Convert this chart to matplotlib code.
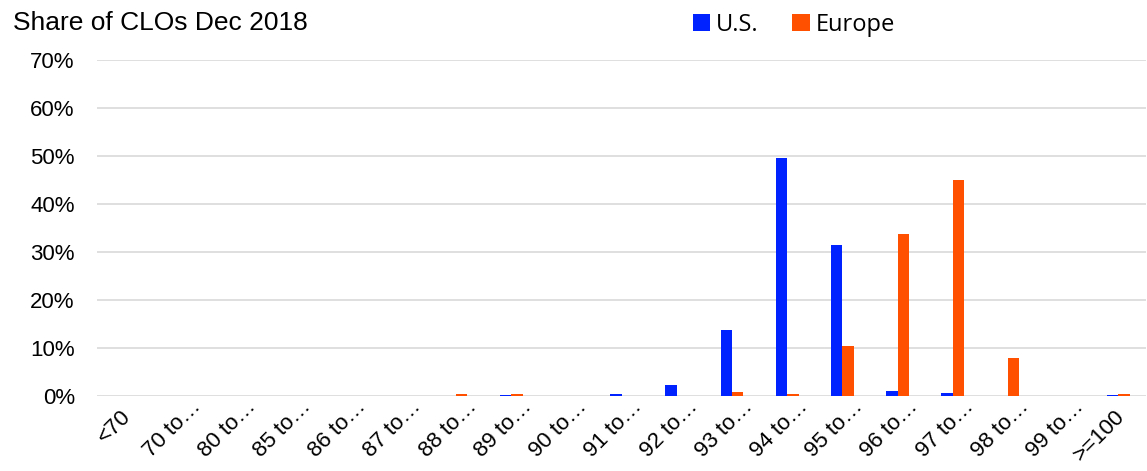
import matplotlib
matplotlib.use("Agg")
import matplotlib.pyplot as plt
import matplotlib.transforms as mtransforms
import numpy as np
from matplotlib.ticker import PercentFormatter

categories = ["<70", "70 to…", "80 to…", "85 to…", "86 to…", "87 to…", "88 to…", "89 to…",
              "90 to…", "91 to…", "92 to…", "93 to…", "94 to…", "95 to…", "96 to…", "97 to…",
              "98 to…", "99 to…", ">=100"]
us = [0.1, 0.0, 0.0, 0.0, 0.0, 0.0, 0.1, 0.2, 0.0, 0.5, 2.2, 13.7, 49.5, 31.4, 1.0, 0.6, 0.1, 0.1, 0.3]
europe = [0.0, 0.0, 0.0, 0.0, 0.0, 0.0, 0.4, 0.4, 0.0, 0.0, 0.0, 0.8, 0.4, 10.4, 33.7, 45.1, 7.9, 0.0, 0.5]

plt.rcParams['font.family'] = ['Liberation Sans', 'DejaVu Sans']

fig = plt.figure(figsize=(11.47, 4.71), dpi=100)
ax = fig.add_axes([0.0846, 0.1592, 0.9146, 0.7134])

x = np.arange(len(categories))
w = 0.207
ax.bar(x - w / 2, us, w, color="#0022FF", label="U.S.", zorder=3)
ax.bar(x + w / 2, europe, w, color="#FF5000", label="Europe", zorder=3)

ax.set_xlim(-0.5, len(categories) - 0.5)
ax.set_ylim(0, 70)
ax.set_yticks(np.arange(0, 71, 10))
ax.yaxis.set_major_formatter(PercentFormatter(decimals=0))
ax.grid(axis="y", color="#D9D9D9", linewidth=1.2, zorder=0)
for s in ax.spines.values():
    s.set_visible(False)
ax.tick_params(axis="both", length=0, colors="black")
ax.tick_params(axis="y", pad=16, labelsize=16)
ax.set_xticks(x)
ax.set_xticklabels(categories, rotation=45, ha="right", va="top", rotation_mode="anchor",
                   fontsize=16)
ax.tick_params(axis="x", pad=0)

# Excel-like placement: truncated (two-line) labels sit closer to the axis
for lbl in ax.get_xticklabels():
    if lbl.get_text().endswith("…"):
        dx_px, dy_px = 10, 0
    else:
        dx_px, dy_px = -4, -10
    off = mtransforms.ScaledTranslation(dx_px / 100, dy_px / 100, fig.dpi_scale_trans)
    lbl.set_transform(lbl.get_transform() + off)

fig.text(0.0115, 0.952, "Share of CLOs Dec 2018", fontsize=19, ha="left", va="center")
fig.legend(loc="center", bbox_to_anchor=(0.692, 0.947), ncol=2, frameon=False,
           handlelength=0.75, handleheight=0.75, handletextpad=0.25, columnspacing=1.4,
           prop={'family': ['Open Sans', 'DejaVu Sans'], 'size': 17})

fig.savefig("out.png", dpi=100)
